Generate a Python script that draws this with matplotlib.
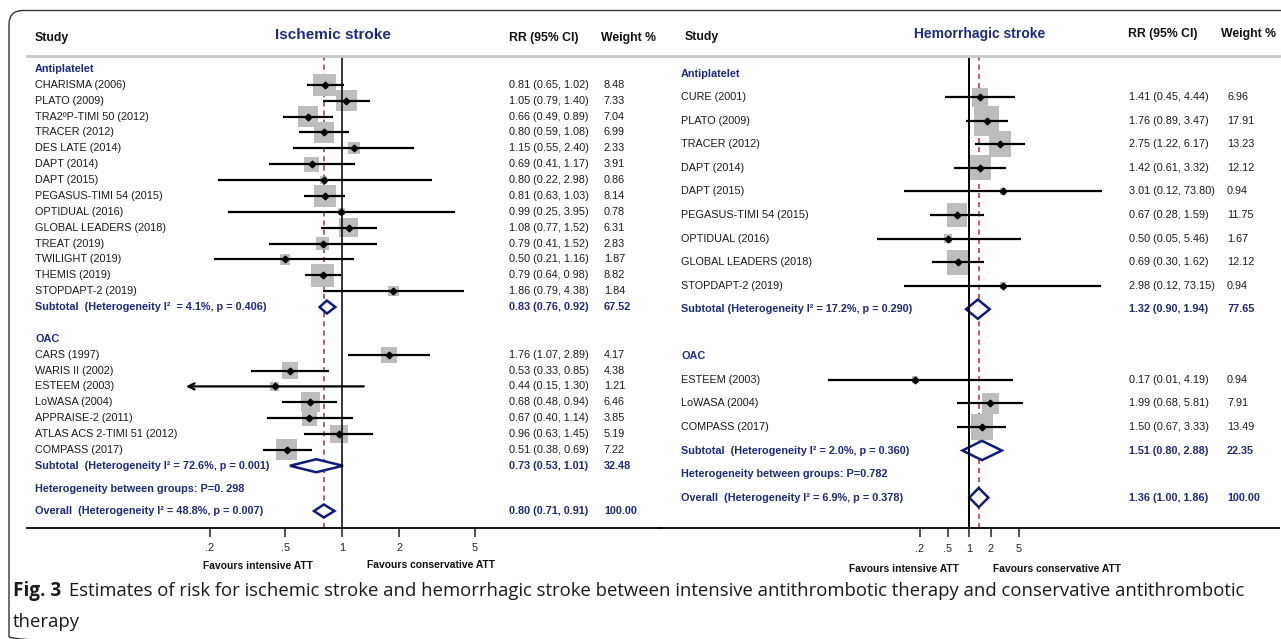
import matplotlib
matplotlib.use("Agg")
import matplotlib.pyplot as plt
import matplotlib.transforms as mtransforms
from matplotlib.patches import Polygon, FancyBboxPatch
import numpy as np

# ========================
# DATA - ISCHEMIC STROKE
# ========================
isc_groups = ["Antiplatelet", "OAC"]
isc_study = ["CHARISMA (2006)", "PLATO (2009)", "TRA2\u00baP-TIMI 50 (2012)", "TRACER (2012)",
             "DES LATE (2014)", "DAPT (2014)", "DAPT (2015)", "PEGASUS-TIMI 54 (2015)",
             "OPTIDUAL (2016)", "GLOBAL LEADERS (2018)", "TREAT (2019)", "TWILIGHT (2019)",
             "THEMIS (2019)", "STOPDAPT-2 (2019)",
             "CARS (1997)", "WARIS II (2002)", "ESTEEM (2003)", "LoWASA (2004)",
             "APPRAISE-2 (2011)", "ATLAS ACS 2-TIMI 51 (2012)", "COMPASS (2017)"]
isc_group = [0] * 14 + [1] * 7
isc_rr = [0.81, 1.05, 0.66, 0.80, 1.15, 0.69, 0.80, 0.81, 0.99, 1.08, 0.79, 0.50, 0.79, 1.86,
          1.76, 0.53, 0.44, 0.68, 0.67, 0.96, 0.51]
isc_lo = [0.65, 0.79, 0.49, 0.59, 0.55, 0.41, 0.22, 0.63, 0.25, 0.77, 0.41, 0.21, 0.64, 0.79,
          1.07, 0.33, 0.15, 0.48, 0.40, 0.63, 0.38]
isc_hi = [1.02, 1.40, 0.89, 1.08, 2.40, 1.17, 2.98, 1.03, 3.95, 1.52, 1.52, 1.16, 0.98, 4.38,
          2.89, 0.85, 1.30, 0.94, 1.14, 1.45, 0.69]
isc_wt = [8.48, 7.33, 7.04, 6.99, 2.33, 3.91, 0.86, 8.14, 0.78, 6.31, 2.83, 1.87, 8.82, 1.84,
          4.17, 4.38, 1.21, 6.46, 3.85, 5.19, 7.22]
isc_arrow = ["ESTEEM (2003)"]
isc_sub_label = ["Subtotal  (Heterogeneity I\u00b2  = 4.1%, p = 0.406)",
                 "Subtotal  (Heterogeneity I\u00b2 = 72.6%, p = 0.001)"]
isc_sub_rr = [0.83, 0.73]
isc_sub_lo = [0.76, 0.53]
isc_sub_hi = [0.92, 1.01]
isc_sub_wt = [67.52, 32.48]
isc_het = "Heterogeneity between groups: P=0. 298"
isc_all_label = "Overall  (Heterogeneity I\u00b2 = 48.8%, p = 0.007)"
isc_all = [0.80, 0.71, 0.91, 100.00]

# ========================
# DATA - HEMORRHAGIC STROKE
# ========================
hem_groups = ["Antiplatelet", "OAC"]
hem_study = ["CURE (2001)", "PLATO (2009)", "TRACER (2012)", "DAPT (2014)", "DAPT (2015)",
             "PEGASUS-TIMI 54 (2015)", "OPTIDUAL (2016)", "GLOBAL LEADERS (2018)",
             "STOPDAPT-2 (2019)",
             "ESTEEM (2003)", "LoWASA (2004)", "COMPASS (2017)"]
hem_group = [0] * 9 + [1] * 3
hem_rr = [1.41, 1.76, 2.75, 1.42, 3.01, 0.67, 0.50, 0.69, 2.98, 0.17, 1.99, 1.50]
hem_lo = [0.45, 0.89, 1.22, 0.61, 0.12, 0.28, 0.05, 0.30, 0.12, 0.01, 0.68, 0.67]
hem_hi = [4.44, 3.47, 6.17, 3.32, 73.80, 1.59, 5.46, 1.62, 73.15, 4.19, 5.81, 3.33]
hem_wt = [6.96, 17.91, 13.23, 12.12, 0.94, 11.75, 1.67, 12.12, 0.94, 0.94, 7.91, 13.49]
hem_arrow = []
hem_sub_label = ["Subtotal (Heterogeneity I\u00b2 = 17.2%, p = 0.290)",
                 "Subtotal  (Heterogeneity I\u00b2 = 2.0%, p = 0.360)"]
hem_sub_rr = [1.32, 1.51]
hem_sub_lo = [0.90, 0.80]
hem_sub_hi = [1.94, 2.88]
hem_sub_wt = [77.65, 22.35]
hem_het = "Heterogeneity between groups: P=0.782"
hem_all_label = "Overall  (Heterogeneity I\u00b2 = 6.9%, p = 0.378)"
hem_all = [1.36, 1.00, 1.86, 100.00]

tick_vals = [0.2, 0.5, 1, 2, 5]
tick_labels = [".2", ".5", "1", "2", "5"]

caption_bold = "Fig. 3"
caption_text = ("Estimates of risk for ischemic stroke and hemorrhagic stroke between intensive "
                "antithrombotic therapy and conservative antithrombotic")
caption_text2 = "therapy"

# ========================
# STYLE
# ========================
NAVY = "#1d2b78"
DIAMOND = "#101a7a"
RED = "#a8323a"
SQUARE = "#bdbdbd"
FS = 7.8

plt.rcParams['font.family'] = ['Liberation Sans', 'DejaVu Sans']

W, H = 1281, 639
fig = plt.figure(figsize=(W / 100, H / 100), dpi=100)
# pixel coordinates measured from the top-left corner
PX = mtransforms.Affine2D().scale(1 / W, -1 / H).translate(0, 1) + fig.transFigure

# panel layouts (in pixels of the output image)
LEFT = dict(x0=26.5, x1=660, ytop=56, ybot=528, one=342.2, dec=189.6,
            row0=69, step=15.87, het_off=1.45, all_off=2.85,
            name_x=35, rr_x=509, w_x=604, sq_w=7.8, sq_h=7.8, null_lw=1.1,
            title="Ischemic stroke", title_x=332.5, title_y=35, title_fs=11,
            hdr=[("Study", 35, 38), ("RR (95% CI)", 509, 38), ("Weight %", 601, 38)],
            fav=[(257.6, 566), (431.4, 565)], tick_pad=4)
RIGHT = dict(x0=660, x1=1279, ytop=56, ybot=528.3, one=969.3, dec=70.8,
             row0=73.7, step=23.55, het_off=1, all_off=2,
             name_x=681, rr_x=1129, w_x=1227, sq_w=6.0, sq_h=7.2, null_lw=1.4,
             title="Hemorrhagic stroke", title_x=980, title_y=34, title_fs=10,
             hdr=[("Study", 684.5, 37), ("RR (95% CI)", 1128.5, 34.5), ("Weight %", 1221, 34.5)],
             fav=[(904, 569), (1057, 569)], tick_pad=5)


def fmt_ci(r, l, h):
    return f"{r:.2f} ({l:.2f}, {h:.2f})"


def draw_panel(lay, groups, study, group, rr, lo, hi, wt, arrow, sub_label, sub_rr,
               sub_lo, sub_hi, sub_wt, het, all_label, all_vals):
    ax = fig.add_axes([lay['x0'] / W, (H - lay['ybot']) / H,
                       (lay['x1'] - lay['x0']) / W, (lay['ybot'] - lay['ytop']) / H])
    ax.set_xscale('log')
    ax.set_xlim(10 ** ((lay['x0'] - lay['one']) / lay['dec']),
                10 ** ((lay['x1'] - lay['one']) / lay['dec']))
    ax.set_ylim((lay['ybot'] - lay['row0']) / lay['step'],
                (lay['ytop'] - lay['row0']) / lay['step'])
    ax.patch.set_alpha(0)
    for s in ['top', 'left', 'right']:
        ax.spines[s].set_visible(False)
    ax.spines['bottom'].set_linewidth(1.3)
    ax.set_yticks([])
    ax.minorticks_off()
    ax.set_xticks(tick_vals)
    ax.set_xticklabels(tick_labels)
    ax.tick_params(axis='x', direction='out', length=6.5, width=1.1,
                   labelsize=FS, pad=lay['tick_pad'], colors='#222222')

    tr = mtransforms.blended_transform_factory(PX, ax.transData)

    # row layout
    rows, hdr_rows, sub_rows = [], [], []
    r = 0
    for g in range(len(groups)):
        n = sum(1 for gi in group if gi == g)
        hdr_rows.append(r)
        rows += list(range(r + 1, r + 1 + n))
        sub_rows.append(r + n + 1)
        r += n + 3
    het_row = sub_rows[-1] + lay['het_off']
    all_row = sub_rows[-1] + lay['all_off']
    rows = np.array(rows, dtype=float)

    # reference lines
    ax.axvline(1, color='black', lw=lay['null_lw'], zorder=4)
    ax.axvline(all_vals[0], color=RED, lw=1.1, ls=(0, (3.3, 2.7)), zorder=1)

    # weight boxes
    side = np.sqrt(np.array(wt))
    a = lay['sq_w'] / lay['sq_h']
    box = [(-a, -1), (a, -1), (a, 1), (-a, 1)]
    ax.scatter(rr, rows, s=(side * lay['sq_h'] * 0.72) ** 2, marker=box,
               color=SQUARE, linewidths=0, zorder=2)

    # confidence intervals
    for i, name in enumerate(study):
        if name in arrow:
            ax.annotate('', xy=(lo[i], rows[i]), xytext=(hi[i], rows[i]),
                        arrowprops=dict(arrowstyle='->', lw=1.6, color='black',
                                        mutation_scale=11, shrinkA=0, shrinkB=0),
                        zorder=5)
        else:
            ax.plot([lo[i], hi[i]], [rows[i], rows[i]], color='black', lw=1.6,
                    solid_capstyle='butt', zorder=5)
    ax.plot(rr, rows, 'D', color='black', ms=3.4, zorder=6)

    # pooled diamonds
    pooled = list(zip(sub_rr, sub_lo, sub_hi, sub_rows)) + [(all_vals[0], all_vals[1], all_vals[2], all_row)]
    for est, l, h, y in pooled:
        ax.add_patch(Polygon([(l, y), (est, y - 0.41), (h, y), (est, y + 0.41)], closed=True,
                             facecolor='white', edgecolor=DIAMOND, lw=1.8, zorder=3))

    # text columns
    for i, name in enumerate(study):
        ax.text(lay['name_x'], rows[i], name, transform=tr, va='center', fontsize=FS, color='#1a1a1a')
        ax.text(lay['rr_x'], rows[i], fmt_ci(rr[i], lo[i], hi[i]), transform=tr, va='center',
                fontsize=FS, color='#1a1a1a')
        ax.text(lay['w_x'], rows[i], f"{wt[i]:.2f}", transform=tr, va='center',
                fontsize=FS, color='#1a1a1a')
    bold = dict(transform=tr, va='center', fontsize=FS, color=NAVY, fontweight='bold')
    for g, y in enumerate(hdr_rows):
        ax.text(lay['name_x'], y, groups[g], **bold)
    for g, y in enumerate(sub_rows):
        ax.text(lay['name_x'], y, sub_label[g], **bold)
        ax.text(lay['rr_x'], y, fmt_ci(sub_rr[g], sub_lo[g], sub_hi[g]), **bold)
        ax.text(lay['w_x'], y, f"{sub_wt[g]:.2f}", **bold)
    ax.text(lay['name_x'], het_row, het, **bold)
    ax.text(lay['name_x'], all_row, all_label, **bold)
    ax.text(lay['rr_x'], all_row, fmt_ci(*all_vals[:3]), **bold)
    ax.text(lay['w_x'], all_row, f"{all_vals[3]:.2f}", **bold)

    # header
    fig.text(lay['title_x'], lay['title_y'], lay['title'], transform=PX, ha='center', va='center',
             fontsize=lay['title_fs'], fontweight='bold', color=NAVY)
    for label, x, y in lay['hdr']:
        fig.text(x, y, label, transform=PX, va='center', fontsize=8.8, fontweight='bold',
                 color='#111111')
    (fx1, fy1), (fx2, fy2) = lay['fav']
    fig.text(fx1, fy1, "Favours intensive ATT", transform=PX, ha='center', va='center',
             fontsize=7.4, fontweight='bold', color='#111111')
    fig.text(fx2, fy2, "Favours conservative ATT", transform=PX, ha='center', va='center',
             fontsize=7.4, fontweight='bold', color='#111111')
    return ax


draw_panel(LEFT, isc_groups, isc_study, isc_group, isc_rr, isc_lo, isc_hi, isc_wt, isc_arrow,
           isc_sub_label, isc_sub_rr, isc_sub_lo, isc_sub_hi, isc_sub_wt, isc_het,
           isc_all_label, isc_all)
draw_panel(RIGHT, hem_groups, hem_study, hem_group, hem_rr, hem_lo, hem_hi, hem_wt, hem_arrow,
           hem_sub_label, hem_sub_rr, hem_sub_lo, hem_sub_hi, hem_sub_wt, hem_het,
           hem_all_label, hem_all)

# header separator
fig.add_artist(plt.Line2D([26.5, 1279], [56, 56], transform=PX, color='#c8c8c8', lw=2))

# outer rounded frame
fig.add_artist(FancyBboxPatch((9, 10.5), 1300, 640, boxstyle="round,pad=0,rounding_size=14",
                              transform=PX, facecolor='none', edgecolor='#333333', lw=1))

# ========================
# CAPTION
# ========================
renderer = fig.canvas.get_renderer()
cap = fig.text(13, 591, caption_bold, transform=PX, va='center', fontsize=13.6,
               fontweight='bold', family=['Open Sans', 'DejaVu Sans'], color='#1a1a1a')
bb = cap.get_window_extent(renderer=renderer)
fig.text(bb.x1 + 8, 591, caption_text, transform=PX, va='center', fontsize=13.3,
         family=['Open Sans', 'DejaVu Sans'], color='#1a1a1a')
fig.text(13, 622, caption_text2, transform=PX, va='center', fontsize=13.3,
         family=['Open Sans', 'DejaVu Sans'], color='#1a1a1a')

fig.savefig("out.png", dpi=100)
plt.close(fig)
